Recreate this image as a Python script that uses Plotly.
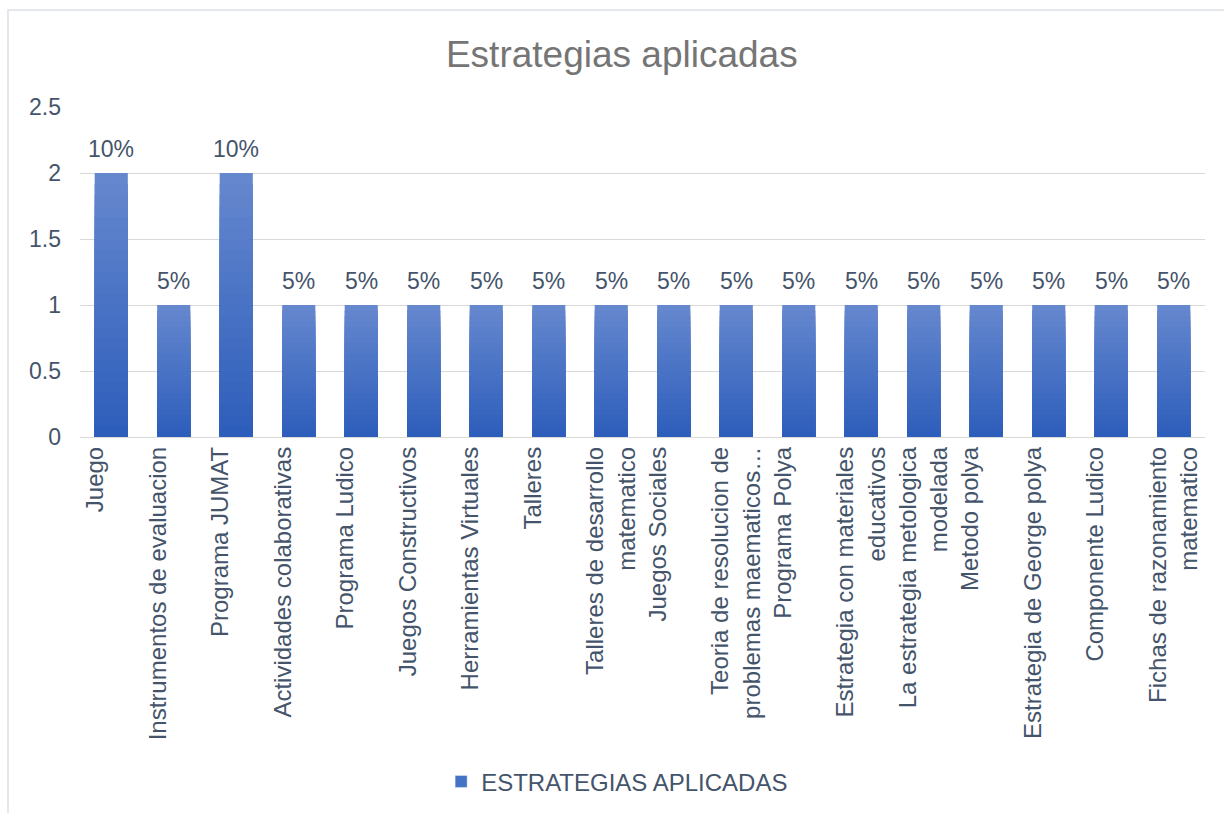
import plotly.graph_objects as go

categories = [
    "Juego", "Instrumentos de evaluacion", "Programa JUMAT", "Actividades colaborativas",
    "Programa Ludico", "Juegos Constructivos", "Herramientas Virtuales", "Talleres",
    "Talleres de desarrollo<br>matematico", "Juegos Sociales",
    "Teoria de resolucion de<br>problemas maematicos…", "Programa Polya",
    "Estrategia con materiales<br>educativos", "La estrategia metologica<br>modelada",
    "Metodo polya", "Estrategia de George polya", "Componente Ludico",
    "Fichas de razonamiento<br>matematico",
]
values = [2, 1, 2, 1, 1, 1, 1, 1, 1, 1, 1, 1, 1, 1, 1, 1, 1, 1]
series_name = "ESTRATEGIAS APLICADAS"
y_ticks = [0, 0.5, 1, 1.5, 2, 2.5]
y_tick_labels = ["0", "0.5", "1", "1.5", "2", "2.5"]

total = sum(values)
labels = [f"{round(v / total * 100)}%" for v in values]
# single-line labels get an empty second line so they sit left of the bar centre, as in the source
tick_text = [c if "<br>" in c else c + "<br> " for c in categories]

FONT = "Liberation Sans, Arial, sans-serif"
TXT = "#44546A"

top_rgb = (0x65, 0x87, 0xCE)
bot_rgb = (0x2E, 0x5E, 0xBB)
N = 24

fig = go.Figure()
for k in range(N):
    f = 1 - k / N
    t = k / (N - 1)
    c = tuple(round(top_rgb[i] + (bot_rgb[i] - top_rgb[i]) * t) for i in range(3))
    fig.add_trace(go.Bar(
        x=categories, y=[v * f for v in values],
        marker=dict(color=f"rgb{c}", line=dict(width=0)),
        showlegend=False, hoverinfo="skip",
    ))

# legend entry
fig.add_trace(go.Bar(
    x=[categories[0]], y=[None], name=series_name,
    marker=dict(color="#4472C4"), showlegend=True,
))

annotations = [
    dict(x=c, y=v, xref="x", yref="y", text=lab, showarrow=False,
         yanchor="bottom", yshift=9, font=dict(family=FONT, size=23, color=TXT))
    for c, v, lab in zip(categories, values, labels)
]

fig.update_layout(
    width=1224, height=813,
    barmode="overlay", bargap=0.47,
    paper_bgcolor="white", plot_bgcolor="white",
    margin=dict(l=80, r=19, t=107, b=376, autoexpand=False),
    title=dict(text="Estrategias aplicadas", x=0.508, xanchor="center", y=0.933, yanchor="middle",
               font=dict(family=FONT, size=37, color="#757575")),
    font=dict(family=FONT, color=TXT),
    legend=dict(orientation="h", x=0.321, xanchor="left", y=-1.045, yanchor="middle",
                bgcolor="rgba(0,0,0,0)",
                font=dict(family=FONT, size=24, color=TXT), itemwidth=30),
    xaxis=dict(tickangle=-90, tickfont=dict(family=FONT, size=24, color=TXT), automargin=False,
               tickmode="array", tickvals=categories, ticktext=tick_text,
               showline=False, showgrid=False, ticks="", ticklabelstandoff=4),
    yaxis=dict(range=[0, 2.5], tickvals=y_ticks, ticktext=y_tick_labels, automargin=False,
               tickfont=dict(family=FONT, size=23, color=TXT),
               showgrid=True, gridcolor="#D9D9D9", gridwidth=1, zeroline=True,
               zerolinecolor="#D9D9D9", zerolinewidth=1, showline=False, ticks="",
               ticklabelstandoff=18),
    annotations=annotations,
    shapes=[dict(type="rect", xref="paper", yref="paper",
                 x0=-0.064, x1=1.03, y0=-1.2, y1=1.294,
                 line=dict(color="#DCE1E8", width=1.5), fillcolor="rgba(0,0,0,0)", layer="below")],
)

fig.write_html("out.html", config={"displayModeBar": False},
               post_script="document.body.style.margin='0';")
